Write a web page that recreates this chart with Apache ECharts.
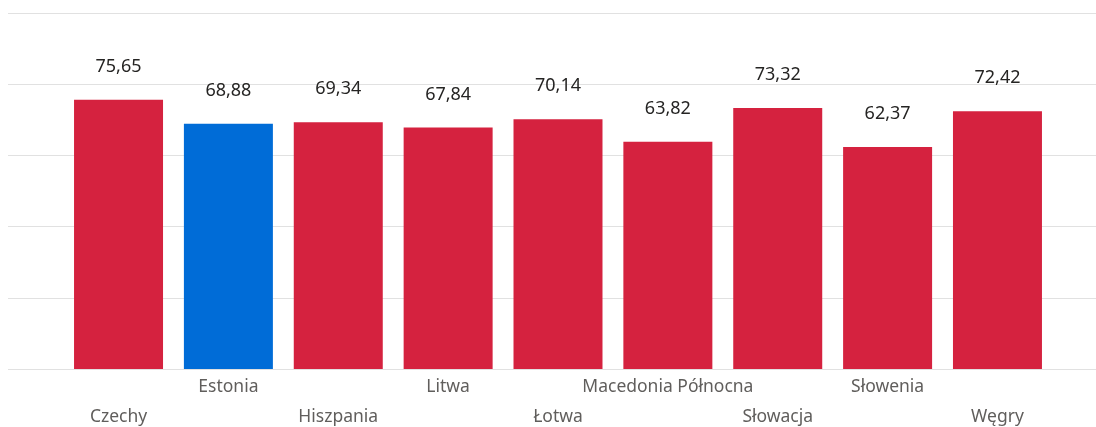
<!DOCTYPE html>
<html>
<head>
<meta charset="utf-8">
<script src="https://cdn.jsdelivr.net/npm/echarts@6/dist/echarts.min.js"></script>
<style>html,body{margin:0;padding:0;background:#fff}#c{width:1096px;height:427px}</style>
</head>
<body>
<div id="c"></div>
<script>
var categories = ['Czechy', 'Estonia', 'Hiszpania', 'Litwa', '\u0141otwa', 'Macedonia P\u00f3\u0142nocna', 'S\u0142owacja', 'S\u0142owenia', 'W\u0119gry'];
var values = [75.65, 68.88, 69.34, 67.84, 70.14, 63.82, 73.32, 62.37, 72.42];
var highlight = 'Estonia';
var yMin = 0, yMax = 100, yStep = 20;

var RED = '#D5223F', BLUE = '#006CD7';
var FONT = 'Noto Sans';
var chart = echarts.init(document.getElementById('c'), null, {renderer: 'canvas'});
var gTop = 13, gBottom = 58;
chart.setOption({
  animation: false,
  grid: [
    {left: 8, right: 0, top: gTop, bottom: gBottom, outerBoundsMode: 'none', containLabel: false},
    {left: 63.6, right: 43.6, top: gTop, bottom: gBottom, outerBoundsMode: 'none', containLabel: false}
  ],
  xAxis: [
    {gridIndex: 0, type: 'value', show: false, min: 0, max: 1},
    {gridIndex: 1, type: 'category', data: categories,
      axisLine: {show: false}, axisTick: {show: false},
      axisLabel: {interval: 0, hideOverlap: false, margin: 3, color: '#605E5C',
        fontFamily: FONT, fontSize: 17.5, lineHeight: 30, verticalAlign: 'top',
        formatter: function (v, i) { return i % 2 === 0 ? '\n' + v : v; }}}
  ],
  yAxis: [
    {gridIndex: 0, type: 'value', min: yMin, max: yMax, interval: yStep,
      axisLabel: {show: false}, axisLine: {show: false}, axisTick: {show: false},
      splitLine: {show: true, lineStyle: {color: '#E1E1E1', width: 1}}},
    {gridIndex: 1, type: 'value', min: yMin, max: yMax, interval: yStep, show: false,
      splitLine: {show: false}}
  ],
  series: [{
    type: 'bar', xAxisIndex: 1, yAxisIndex: 1,
    barCategoryGap: '19%',
    data: values.map(function (v, i) {
      return {value: v, itemStyle: {color: categories[i] === highlight ? BLUE : RED}};
    }),
    label: {show: true, position: 'top', distance: 22, color: '#252423',
      fontFamily: FONT, fontSize: 18, lineHeight: 22,
      formatter: function (p) { return p.value.toFixed(2).replace('.', ','); }}
  }]
});
</script>
</body>
</html>
